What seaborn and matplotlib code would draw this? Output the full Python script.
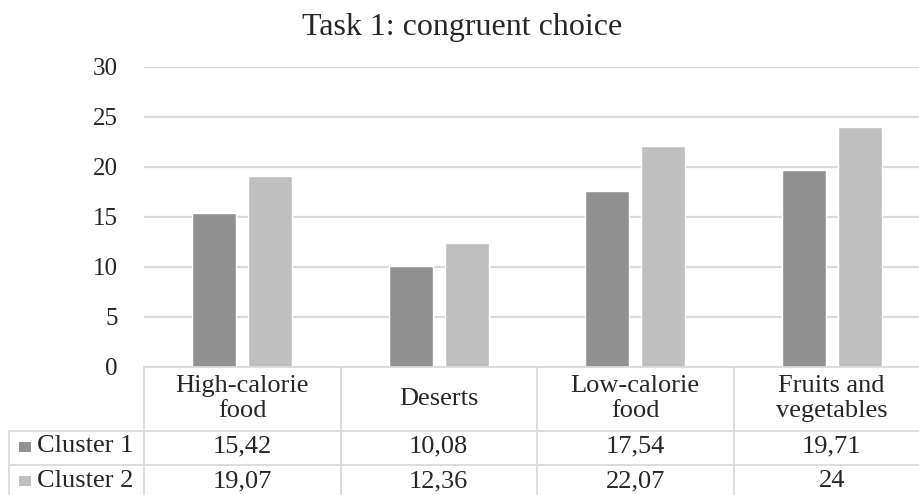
import pandas as pd
import matplotlib.pyplot as plt
import seaborn as sns
from matplotlib.patches import Rectangle
from matplotlib.transforms import blended_transform_factory

# chart data
categories = ["High-calorie\nfood", "Deserts", "Low-calorie\nfood", "Fruits and\nvegetables"]
cluster_names = ["Cluster 1", "Cluster 2"]
cluster1 = [15.42, 10.08, 17.54, 19.71]
cluster2 = [19.07, 12.36, 22.07, 24]
colors = ["#919191", "#bfbfbf"]

W, H = 919, 495  # figure size in pixels
TABLE_FS = 19


def fmt(v):
    # Excel "General" format with decimal comma
    return f"{v:g}".replace(".", ",")


def fy(py):
    # pixel row (from top) -> figure fraction
    return 1 - py / H


sns.set_style("white")
plt.rcParams["font.family"] = ["Liberation Serif", "DejaVu Serif"]

df = pd.DataFrame({
    "category": categories * 2,
    "cluster": [cluster_names[0]] * 4 + [cluster_names[1]] * 4,
    "value": cluster1 + cluster2,
})

fig = plt.figure(figsize=(W / 100, H / 100), dpi=100)
ax = fig.add_axes([144 / W, fy(366.7), 786 / W, 300 / H])

sns.barplot(data=df, x="category", y="value", hue="cluster", palette=colors,
            saturation=1, width=0.57, gap=0.22, legend=False, ax=ax)

ax.set_ylim(0, 30)
ax.set_xlim(-0.5, len(categories) - 0.5)
ax.set_yticks(range(0, 31, 5))
ax.set_xticks([])
ax.set_xlabel("")
ax.set_ylabel("")
ax.tick_params(axis="y", length=0, pad=19, labelsize=18)
ax.yaxis.grid(True, color="#d9d9d9", linewidth=1.6)
ax.set_axisbelow(True)
sns.despine(ax=ax, left=True, right=True, top=True, bottom=True)

fig.text(462 / W, fy(27), "Task 1: congruent choice", ha="center", va="center", fontsize=23)

# data table under the plot
line_kw = dict(color="#d9d9d9", linewidth=1.3, clip_on=False)
tr = blended_transform_factory(ax.transData, fig.transFigure)
row_edges = [366.7, 430.5, 464.5, 500]
col_edges = [i - 0.5 for i in range(len(categories) + 1)]

# horizontal lines
ax.plot([col_edges[0], col_edges[-1]], [fy(row_edges[0])] * 2, transform=tr, **line_kw)
for py in row_edges[1:3]:
    fig.add_artist(plt.Line2D([9 / W, 1.0], [fy(py)] * 2, **line_kw))
# vertical lines
for cx in col_edges:
    ax.plot([cx, cx], [fy(row_edges[0]), fy(row_edges[-1])], transform=tr, **line_kw)
fig.add_artist(plt.Line2D([9 / W] * 2, [fy(row_edges[1]), fy(row_edges[-1])], **line_kw))

# header row
for i, cat in enumerate(categories):
    ax.text(i, fy((row_edges[0] + row_edges[1]) / 2), cat, transform=tr,
            ha="center", va="center", fontsize=TABLE_FS, linespacing=1.15)

# value rows with legend keys
for r, (name, vals) in enumerate(zip(cluster_names, [cluster1, cluster2])):
    ymid = (row_edges[r + 1] + row_edges[r + 2]) / 2 - 1
    fig.add_artist(Rectangle((19 / W, fy(ymid + 5)), 12 / W, 10 / H,
                             transform=fig.transFigure, color=colors[r], linewidth=0))
    fig.text(37 / W, fy(ymid), name, ha="left", va="center", fontsize=TABLE_FS)
    for i, v in enumerate(vals):
        ax.text(i, fy(ymid), fmt(v), transform=tr, ha="center", va="center", fontsize=TABLE_FS)

fig.savefig("out.png", dpi=100)
